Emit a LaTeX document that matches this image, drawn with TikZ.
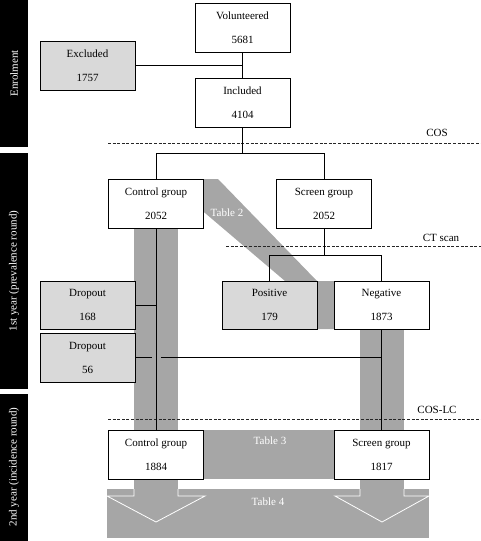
\documentclass[tikz,border=0pt]{standalone}
\usepackage{fontspec}
\setmainfont{Liberation Serif}
\definecolor{band}{RGB}{166,166,166}
\definecolor{lightbox}{RGB}{217,217,217}
\tikzset{
  box/.style={draw=black, line width=0.8pt, fill=white, minimum width=95pt, minimum height=49pt,
    inner sep=0pt, align=center, font=\fontsize{11pt}{24pt}\selectfont},
  greybox/.style={box, fill=lightbox},
  conn/.style={line width=0.8pt},
  sep/.style={line width=0.8pt, black!85, dash pattern=on 3pt off 1.6pt},
  sidebar/.style={fill=black},
  sidetext/.style={text=white, rotate=90, font=\fontsize{11pt}{13pt}\selectfont},
  tabtext/.style={text=white, font=\fontsize{11pt}{13pt}\selectfont},
  steplabel/.style={font=\fontsize{11pt}{13pt}\selectfont},
  arrowedge/.style={white, line width=0.8pt}
}
\begin{document}
\begin{tikzpicture}[x=1pt, y=-1pt]
\useasboundingbox (0,0) rectangle (481,541);

% side bars
\fill[sidebar] (0,0) rectangle (28,147);
\fill[sidebar] (0,153) rectangle (28,389);
\fill[sidebar] (0,394) rectangle (28,541);
\node[sidetext] (s1) at (14,73.5) {Enrolment};
\node[sidetext] (s2) at (14,271) {1st year (prevalence round)};
\node[sidetext] (s3) at (14,467) {2nd year (incidence round)};

% grey bands
\fill[band] (165,179) -- (218,179) -- (317,281) -- (334,281) -- (334,329) -- (290,329) -- (285,281) -- cycle;
\fill[band] (134,200) rectangle (178,490);
\fill[band] (360,320) rectangle (404,490);
\fill[band] (203,430) rectangle (334,479);
\fill[band] (107,489) rectangle (429,538);
\fill[band] (134,489) -- (134,496) -- (107,496) -- (156,522) -- (205,496) -- (178,496) -- (178,489) -- cycle;
\draw[arrowedge] (134,489) -- (134,496) -- (107,496) -- (156,522) -- (205,496) -- (178,496) -- (178,489);
\fill[band] (360,489) -- (360,496) -- (335,496) -- (382,522) -- (429,496) -- (404,496) -- (404,489) -- cycle;
\draw[arrowedge] (360,489) -- (360,496) -- (335,496) -- (382,522) -- (429,496) -- (404,496) -- (404,489);
\node[tabtext] (t2) at (227,213) {Table 2};
\node[tabtext] (t3) at (270,441) {Table 3};
\node[tabtext] (t4) at (268,502) {Table 4};

% separators
\draw[sep] (108,143) -- (481,143);
\draw[sep] (226,246) -- (481,246);
\draw[sep] (108,419) -- (481,419);
\node[steplabel] (cos) at (437,133) {COS};
\node[steplabel] (ct) at (441,238) {CT scan};
\node[steplabel] (coslc) at (437,410) {COS-LC};

% boxes
\node[box] (vol) at (242.5,27.5) {Volunteered\\5681};
\node[greybox] (exc) at (87.5,65.5) {Excluded\\1757};
\node[box] (inc) at (242.5,102.5) {Included\\4104};
\node[box] (cg1) at (156,203.5) {Control group\\2052};
\node[box] (sg1) at (324,203.5) {Screen group\\2052};
\node[greybox, minimum height=48pt] (pos) at (269.5,305) {Positive\\179};
\node[box, minimum height=48pt] (neg) at (381.5,305) {Negative\\1873};
\node[greybox, minimum height=48pt] (d168) at (87.5,305) {Dropout\\168};
\node[greybox] (d56) at (87.5,357.5) {Dropout\\56};
\node[box] (cg2) at (156,454.5) {Control group\\1884};
\node[box] (sg2) at (381.5,454.5) {Screen group\\1817};

% connectors
\coordinate (j1) at (242.5,153);
\coordinate (j2) at (324,255);
\draw[conn] (vol.south) -- (inc.north);
\draw[conn] (exc.east) -- (exc.east -| vol.south);
\draw[conn] (inc.south) -- (j1);
\draw[conn] (cg1.north) |- (j1);
\draw[conn] (sg1.north) |- (j1);
\draw[conn] (sg1.south) -- (j2);
\draw[conn] (pos.north) |- (j2);
\draw[conn] (neg.north) |- (j2);
\draw[conn] (cg1.south) -- (cg2.north);
\draw[conn] (neg.south) -- (sg2.north);
\draw[conn] (d168.east) -- (d168.east -| cg1.south);
\draw[conn] (d56.east) -- ([xshift=-4pt]d56.east -| cg1.south);
\draw[conn] ([xshift=5pt]d56.east -| cg1.south) -- (d56.east -| neg.south);
\end{tikzpicture}
\end{document}
